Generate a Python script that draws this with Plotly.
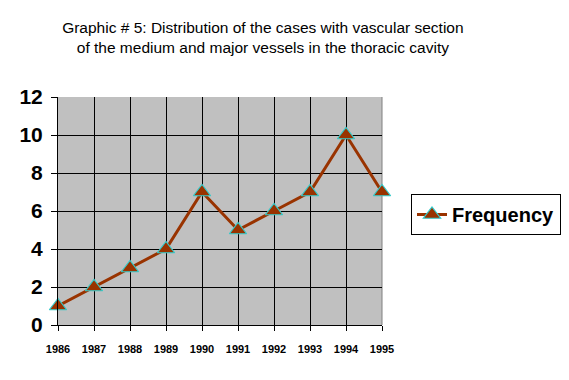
import plotly.graph_objects as go

years = [1986, 1987, 1988, 1989, 1990, 1991, 1992, 1993, 1994, 1995]
frequency = [1, 2, 3, 4, 7, 5, 6, 7, 10, 7]
y_ticks = [0, 2, 4, 6, 8, 10, 12]
title_text = "Graphic # 5: Distribution of the cases with vascular section<br>of the medium and major vessels in the thoracic cavity"
FONT = "Arial, Liberation Sans, sans-serif"

fig = go.Figure()
fig.add_trace(go.Scatter(
    x=years, y=frequency, mode="lines+markers", name="Frequency",
    line=dict(color="#993300", width=3),
    marker=dict(symbol="triangle-up", size=15, color="#993300",
                line=dict(color="#33CCCC", width=1.2)),
    cliponaxis=False,
))

fig.update_layout(
    width=569, height=380,
    margin=dict(l=58, r=187, t=97, b=55, autoexpand=False),
    paper_bgcolor="white", plot_bgcolor="#C0C0C0",
    font=dict(family=FONT, color="black"),
    title=dict(text=title_text, x=0.462, xref="container", xanchor="center",
               y=1 - 33 / 380, yref="container", yanchor="top",
               font=dict(family=FONT, size=15.5, color="black"), automargin=False),
    showlegend=True,
    legend=dict(x=(411 - 58) / 324, xanchor="left", y=(325 - 194) / 228, yanchor="top",
                bgcolor="white", bordercolor="black", borderwidth=1,
                font=dict(family=FONT, size=20, color="black", weight="bold"),
                itemwidth=30),
    xaxis=dict(range=[1986, 1995], tickvals=years, ticktext=[str(y) for y in years],
               showgrid=True, gridcolor="black", gridwidth=1,
               showline=True, linecolor="black", linewidth=1,
               ticks="outside", ticklen=5, tickcolor="black",
               tickfont=dict(family=FONT, size=11, color="black", weight="bold"),
               ticklabelstandoff=9,
               zeroline=False, fixedrange=True, automargin=False),
    yaxis=dict(range=[0, 12], tickvals=y_ticks,
               showgrid=True, gridcolor="black", gridwidth=1,
               showline=True, linecolor="black", linewidth=1,
               ticks="outside", ticklen=6, tickcolor="black",
               tickfont=dict(family=FONT, size=21, color="black", weight="bold"),
               ticklabelstandoff=4,
               zeroline=False, fixedrange=True, automargin=False),
    shapes=[dict(type="line", xref="paper", yref="paper", x0=1, x1=1, y0=0, y1=1,
                 line=dict(color="#808080", width=1), layer="below")],
)

fig.write_html("out.html", config={"displayModeBar": False},
               post_script="document.body.style.margin='0';")
